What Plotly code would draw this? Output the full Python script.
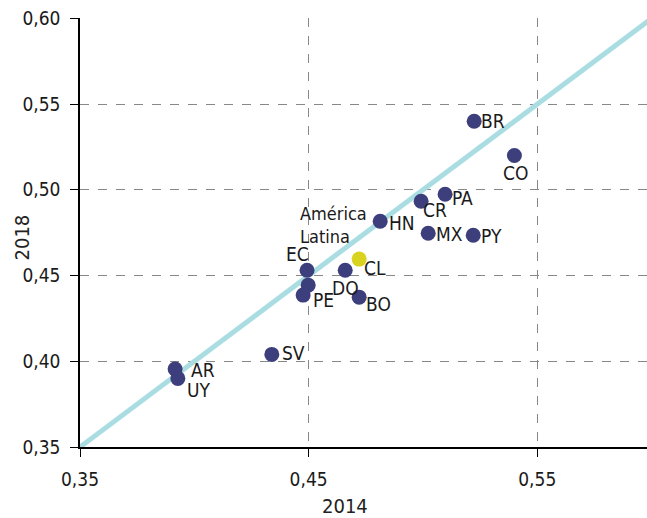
import plotly.graph_objects as go

countries = ["BR", "CO", "PA", "CR", "HN", "MX", "PY", "CL", "EC", "DO", "América<br>Latina", "PE", "BO", "SV", "AR", "UY"]
x2014 = [0.5224, 0.540, 0.5097, 0.4992, 0.4813, 0.5023, 0.522, 0.4721, 0.4493, 0.466, 0.4498, 0.4476, 0.4721, 0.4339, 0.3916, 0.3928]
y2018 = [0.540, 0.520, 0.4974, 0.4933, 0.4817, 0.4747, 0.4735, 0.4596, 0.4531, 0.4531, 0.4444, 0.4386, 0.4374, 0.404, 0.3955, 0.390]
# label offsets in pixels (dx right, dy down)
offsets = {
    "BR": (19, 0), "CO": (1, 17), "PA": (17, 4), "CR": (14, 9), "HN": (22, 2),
    "MX": (21, 1), "PY": (18, 1), "CL": (16, 9), "EC": (-10, -16), "DO": (0, 18),
    "América<br>Latina": (25, -60), "PE": (20, 5), "BO": (19, 7), "SV": (22, -1),
    "AR": (28, 1), "UY": (21, 12),
}
x_title = "2014"
y_title = "2018"

NAVY = "#3d3f7d"
YELLOW = "#d9d21f"
FONT = "DejaVu Sans Condensed, Liberation Sans Narrow, Roboto, sans-serif"

colors = [YELLOW if c == "CL" else NAVY for c in countries]

fig = go.Figure()
fig.add_trace(go.Scatter(x=[0.35, 0.60], y=[0.35, 0.60], mode="lines",
                         line=dict(color="#a9dde1", width=5), hoverinfo="skip", showlegend=False))
fig.add_trace(go.Scatter(x=x2014, y=y2018, mode="markers",
                         marker=dict(color=colors, size=15, line=dict(width=0)),
                         text=countries, showlegend=False))

for c, xv, yv in zip(countries, x2014, y2018):
    dx, dy = offsets[c]
    size = 18 if "<br>" in c else 19
    fig.add_annotation(x=xv, y=yv, text=c, showarrow=False, xshift=dx, yshift=-dy,
                       font=dict(family=FONT, size=size, color="#1a1a1a"), align="left")

# axis titles
fig.add_annotation(xref="paper", yref="paper", x=0, y=0.5, text=y_title, textangle=-90,
                   showarrow=False, xshift=-59, yshift=-5, xanchor="center", yanchor="middle",
                   font=dict(family=FONT, size=20, color="#222222"))
fig.add_annotation(xref="paper", yref="paper", x=0, y=0, text=x_title,
                   showarrow=False, xshift=265, yshift=-59, xanchor="center", yanchor="middle",
                   font=dict(family=FONT, size=20, color="#222222"))

fig.update_layout(
    width=647, height=518,
    margin=dict(l=80, r=0, t=18, b=71),
    plot_bgcolor="white", paper_bgcolor="white",
    font=dict(family=FONT, size=17, color="#222222"),
    separators=",.",
)
axis_common = dict(showgrid=True, gridcolor="#888888", griddash="dash", gridwidth=1,
                   showline=True, linecolor="black", linewidth=1.5, ticks="outside",
                   ticklen=8, tickcolor="black", zeroline=False, automargin=False,
                   tickfont=dict(family=FONT, size=19, color="#1a1a1a"),
                   tickformat=".2f", ticklabelstandoff=6)
fig.update_xaxes(range=[0.35, 0.598], tickvals=[0.35, 0.45, 0.55], **axis_common)
fig.update_yaxes(range=[0.35, 0.6002], tickvals=[0.35, 0.40, 0.45, 0.50, 0.55, 0.60], **axis_common)

fig.write_html("out.html", config={"displayModeBar": False},
               post_script="document.body.style.margin='0';document.body.style.overflow='hidden';")
